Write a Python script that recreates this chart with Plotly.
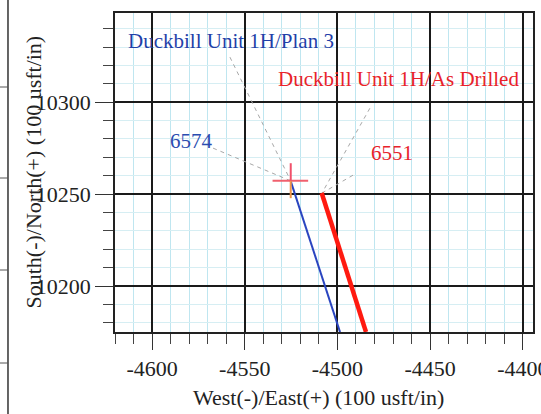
import plotly.graph_objects as go

# ---- data ----
plan_ew = [-4525.3, -4498.6]
plan_ns = [10257.3, 10175.0]
drilled_ew = [-4508.5, -4484.6]
drilled_ns = [10250.6, 10175.0]

cross_ew = -4525.2
cross_ns = 10257.2
cross_arm_x = [-4535.0, -4515.8]
cross_arm_y_up = 10266.8
cross_arm_y_down = 10247.8

leaders = [
    ([-4558.0, -4525.2], [10324.5, 10257.2]),
    ([-4567.1, -4525.2], [10275.0, 10257.2]),
    ([-4482.5, -4508.4], [10296.7, 10250.5]),
    ([-4491.6, -4508.4], [10260.3, 10250.5]),
]

labels = [
    ("Duckbill Unit 1H/Plan 3", -4557.4, 10333.2, "#1f3fa8"),
    ("Duckbill Unit 1H/As Drilled", -4467.1, 10312.5, "#e8222a"),
    ("6574", -4579.0, 10278.8, "#2a4cb0"),
    ("6551", -4470.6, 10272.3, "#e8222a"),
]

x_ticks = [-4600, -4550, -4500, -4450, -4400]
x_tick_text = ["-4600", "-4550", "-4500", "-4450", "-4400"]
y_ticks = [10200, 10250, 10300]
y_tick_text = ["10200", "10250", "10300"]
x_range = [-4620.0, -4394.5]
y_range = [10175.0, 10348.5]

FONT = "Liberation Serif"

fig = go.Figure()

for lx, ly in leaders:
    fig.add_trace(go.Scatter(x=lx, y=ly, mode="lines",
                             line=dict(color="#a8a8a8", width=1, dash="4px,4px"),
                             hoverinfo="skip", showlegend=False))

fig.add_trace(go.Scatter(x=plan_ew, y=plan_ns, mode="lines",
                         line=dict(color="#2a45c0", width=2), showlegend=False))
fig.add_trace(go.Scatter(x=drilled_ew, y=drilled_ns, mode="lines",
                         line=dict(color="#ff1a10", width=4.5), showlegend=False))

# cross marker at plan start
fig.add_trace(go.Scatter(x=cross_arm_x, y=[cross_ns, cross_ns], mode="lines",
                         line=dict(color="#f0606e", width=2), showlegend=False))
fig.add_trace(go.Scatter(x=[cross_ew, cross_ew], y=[cross_arm_y_up, cross_ns], mode="lines",
                         line=dict(color="#f0506a", width=2), showlegend=False))
fig.add_trace(go.Scatter(x=[cross_ew, cross_ew], y=[cross_ns, cross_arm_y_down], mode="lines",
                         line=dict(color="#f0944a", width=2), showlegend=False))

for text, x, y, c in labels:
    fig.add_annotation(x=x, y=y, xref="x", yref="y", text=text, showarrow=False,
                       font=dict(family=FONT, size=21, color=c),
                       xanchor="center", yanchor="middle")

# axis titles
fig.add_annotation(x=0.5, y=0, xref="paper", yref="paper", yshift=-65, xshift=-6,
                   text="West(-)/East(+) (100 usft/in)", showarrow=False,
                   font=dict(family=FONT, size=22, color="#222"),
                   xanchor="center", yanchor="middle")
fig.add_annotation(x=0, y=0.5, xref="paper", yref="paper", xshift=-82,
                   text="South(-)/North(+) (100 usft/in)", showarrow=False, textangle=-90,
                   font=dict(family=FONT, size=22, color="#222"),
                   xanchor="center", yanchor="middle")

# fragments of neighbouring chart at the left edge
shapes = [dict(type="line", xref="paper", yref="paper", x0=-0.256, x1=-0.256, y0=-0.3, y1=1.1,
               line=dict(color="#333", width=1.5))]
for py in [87, 178, 270, 363]:
    yp = (332 - py) / 319
    shapes.append(dict(type="line", xref="paper", yref="paper", x0=-0.276, x1=-0.256,
                       y0=yp, y1=yp, line=dict(color="#555", width=1)))

common = dict(showline=True, linecolor="#222", linewidth=1.5, mirror=True,
              showgrid=True, gridcolor="#1a1a1a", gridwidth=1.5, automargin=False,
              ticks="outside", tickcolor="#333", tickwidth=1.3, zeroline=False,
              tickmode="array", ticklabeloverflow="allow",
              tickfont=dict(family=FONT, size=22, color="#222"))

fig.update_layout(
    width=541, height=414,
    font=dict(family=FONT, size=20, color="#222"),
    margin=dict(l=115, r=8, t=13, b=82, autoexpand=False),
    paper_bgcolor="white", plot_bgcolor="white",
    shapes=shapes,
    xaxis=dict(range=x_range, tickvals=x_ticks, ticktext=x_tick_text, ticklen=16,
               minor=dict(dtick=10, tick0=-4600, ticks="outside", ticklen=10, tickcolor="#444",
                          showgrid=True, gridcolor="#bfe6f0", gridwidth=1), **common),
    yaxis=dict(range=y_range, tickvals=y_ticks, ticktext=y_tick_text, ticklen=18,
               minor=dict(dtick=10, tick0=10200, ticks="outside", ticklen=10, tickcolor="#444",
                          showgrid=True, gridcolor="#d6eef3", gridwidth=1), **common),
)

fig.write_html("out.html", config={"displayModeBar": False},
               post_script="document.body.style.margin='0';document.body.style.overflow='hidden';")
